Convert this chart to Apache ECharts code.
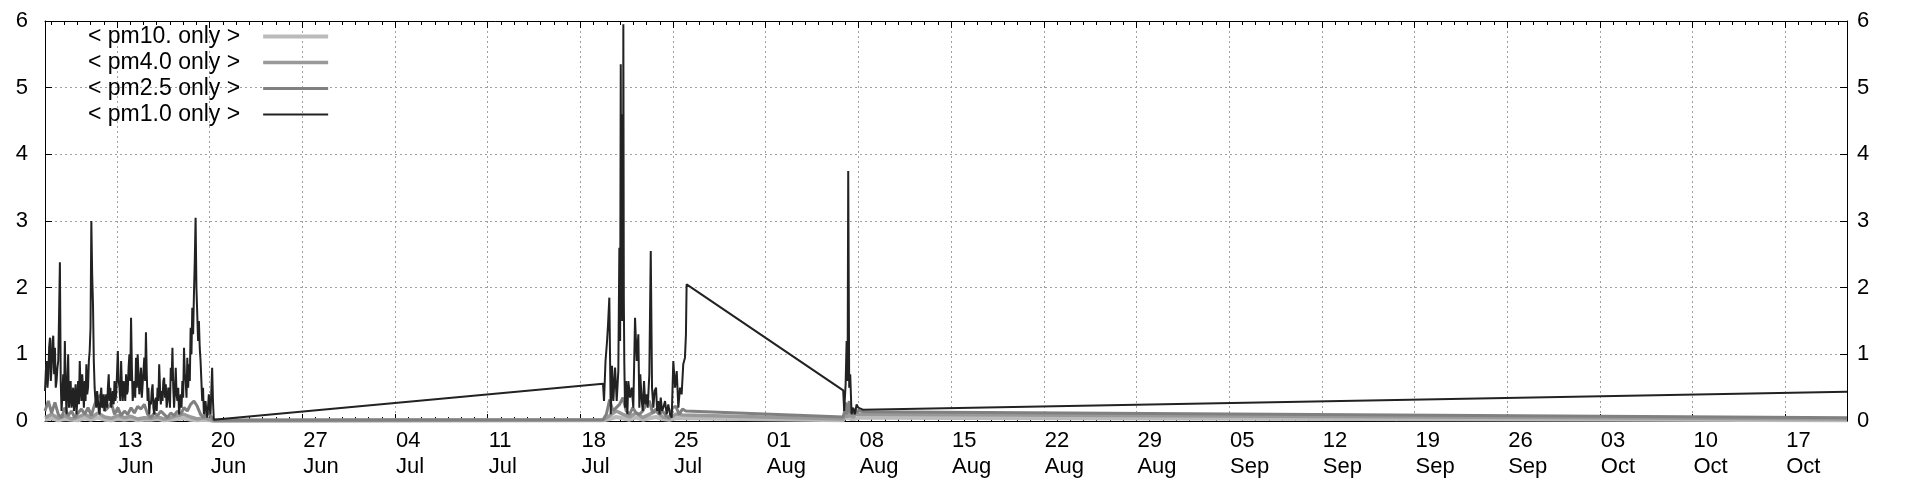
<!DOCTYPE html>
<html><head><meta charset="utf-8">
<script src="https://cdn.jsdelivr.net/npm/echarts@6/dist/echarts.min.js"></script>
<style>html,body{margin:0;padding:0;background:#fff}#chart{width:1920px;height:480px}</style>
</head><body><div id="chart"></div>
<script>
// x values are day-of-year (non-leap year): 164 = 13 Jun
const X_MIN = 158.56, X_MAX = 294.67;
const WEEK_DAYS = [164,171,178,185,192,199,206,213,220,227,234,241,248,255,262,269,276,283,290];
const TICK_LABELS = ['13\nJun','20\nJun','27\nJun','04\nJul','11\nJul','18\nJul','25\nJul','01\nAug','08\nAug','15\nAug','22\nAug','29\nAug','05\nSep','12\nSep','19\nSep','26\nSep','03\nOct','10\nOct','17\nOct'];
const SERIES_NAMES = ['< pm10. only >','< pm4.0 only >','< pm2.5 only >','< pm1.0 only >'];
const SERIES_COLORS = ['#bbbbbb','#999999','#808080','#222222'];
const SERIES_WIDTHS = [4,3.5,3,2];

// segment anchors (day of year)
const SEG1_START = 158.56, SEG1_END = 171.31, SEG2_START = 200.71, SEG2_END = 207.03, SEG3_START = 218.85, DATA_END = 294.67;

// pm1.0 — segment 1, one reading every 1.5 h
const pm1Seg1 = [
 0.45,0.75,0.9,0.5,0.7,1.1,1.25,0.6,0.8,1.2,
 1.28,0.7,1.1,0.5,0.6,0.8,0.9,1.6,2.38,0.6,
 0.15,0.4,0.7,0.3,1.2,0.5,0.1,0.6,1.0,0.2,
 0.4,0.6,0.2,0.3,0.5,0.15,0.35,0.55,0.1,0.3,
 0.6,0.25,0.9,0.5,0.3,0.7,0.45,0.2,0.6,0.3,
 0.85,0.4,0.5,0.9,1.05,1.4,3.0,2.2,1.75,0.9,
 0.5,0.3,0.2,0.45,0.3,0.15,0.1,0.35,0.5,0.2,
 0.25,0.4,0.15,0.3,0.4,0.2,0.5,0.7,0.3,0.5,
 0.2,0.35,0.45,0.25,0.6,0.3,0.4,0.7,1.05,0.6,
 0.5,0.3,0.9,0.5,0.3,0.6,0.5,0.3,0.7,0.4,
 0.45,0.8,1.0,0.6,1.55,0.8,0.3,0.5,0.6,0.35,
 0.95,0.5,1.0,0.7,0.4,0.6,0.8,0.35,0.55,0.75,
 0.95,0.6,1.33,0.7,0.3,0.5,0.1,0.3,0.25,0.45,
 0.55,0.2,0.1,0.3,0.35,0.15,0.5,0.3,0.85,0.5,
 0.25,0.45,0.3,0.6,0.65,0.35,0.55,0.2,0.3,0.5,
 0.45,0.2,0.8,0.6,1.1,0.5,0.2,0.45,0.8,0.4,
 0.3,0.5,0.1,0.25,0.4,0.2,0.6,0.35,1.1,0.7,
 0.6,0.35,0.95,0.5,0.85,0.6,1.4,1.0,1.7,1.3,
 1.9,2.4,3.05,2.0,1.6,1.2,1.5,1.1,0.9,0.6,
 0.3,0.5,0.1,0.2,0.3,0.15,0.05,0.2,0.4,0.2,
 0.1,0.45,0.8,0.3,0.02];
// segment 2 — hours after SEG2_START
const seg2Hours = [0,1.8,4.5,7.3,9.1,11.4,14,16.3,18.7,21.8,
 24.8,27.7,29.6,31,32.1,33,33.9,34.8,35.7,36.3,
 36.8,37.7,38.6,39.9,41.7,44.1,45.9,49,52,54.9,
 58,61.1,64,65.8,67.5,70.2,72,74.3,76.5,79.2,
 81,83.9,86.5,88.8,91.2,93.5,96.1,98,100.2,102.5,
 104.6,107,109.3,112.4,115.4,118.3,121.4,124.5,127.4,130.5,
 133.6,136.5,139.5,142.5,145.4,148.5,150.3,151.5];
const pm1Seg2 = [0.56,0.3,0.9,1.2,1.45,1.85,0.1,0.83,0.3,0.8,
 0.3,0.75,2.6,1.2,5.35,2.2,4.6,1.5,3.5,2.0,
 5.95,1.8,0.85,0.2,0.6,0.1,0.6,0.35,0.5,0.2,
 1.55,0.9,1.3,0.2,0.7,0.3,0.15,0.6,0.25,0.4,
 0.2,0.7,2.55,0.5,0.2,0.45,0.5,0.15,0.3,0.1,
 0.35,0.15,0.2,0.3,0.1,0.25,0.1,0.05,0.9,0.5,
 0.75,0.2,0.5,0.4,0.85,0.95,1.3,2.05];
// segment 3 — hours after SEG3_START
const seg3Hours = [0,1.8,4.4,6.2,8.0,9.1,10.9,12.7,15.2,18.1,21.2,24.3,27.2,30.3,35.7];
const pm1Seg3 = [0.46,0.15,0.55,1.2,0.6,3.75,0.5,0.7,0.1,0.2,0.1,0.25,0.2,0.22,0.17];
const pm1End = 0.44;

// pm2.5 — 6 h readings in segments 1 and 2
const pm25Seg1 = [0.15,0.3,0.12,0.28,0.1,0.05,0.2,0.08,0.15,0.05,
 0.12,0.18,0.1,0.2,0.08,0.25,0.35,0.4,0.15,0.2,
 0.28,0.1,0.2,0.08,0.15,0.1,0.2,0.12,0.22,0.18,
 0.25,0.1,0.05,0.12,0.08,0.15,0.1,0.05,0.12,0.08,
 0.15,0.1,0.2,0.15,0.25,0.3,0.22,0.1,0.05,0.15,
 0.08];
const pm25Seg2 = [0.02,0.1,0.32,0.15,0.2,0.25,0.35,0.15,0.1,0.2,
 0.12,0.1,0.15,0.25,0.3,0.12,0.18,0.1,0.15,0.08,
 0.05,0.2,0.22,0.1,0.18,0.15];
const pm25Seg3 = [0.06,0.12,0.28,0.1,0.25,0.18,0.3,0.12,0.2,0.1,0.18,0.12,0.16,0.14,0.14];
const pm25Gap = 0.01, pm25End = 0.05;

// pm4.0 — 12 h readings in segments 1 and 2
const pm40Seg1 = [0.05,0.1,0.04,0.08,0.03,0.06,0.1,0.05,0.12,0.06,0.04,0.08,0.05,0.07,0.03,0.05,0.04,0.06,0.03,0.05,0.08,0.1,0.06,0.03,0.05,0.02];
const pm40Seg2 = [0.02,0.08,0.15,0.1,0.06,0.12,0.05,0.1,0.15,0.06,0.04,0.1,0.09];
const pm40Seg3 = [0.03,0.05,0.15,0.05,0.12,0.08,0.15,0.06,0.1,0.05,0.1,0.08,0.1,0.1,0.1];
const pm40Gap = 0.01, pm40End = 0.03;

// pm10 — 12 h readings in segments 1 and 2
const pm10Seg1 = [0.02,0.04,0.01,0.03,0.02,0.01,0.04,0.02,0.05,0.02,0.01,0.03,0.02,0.03,0.01,0.02,0.02,0.03,0.01,0.02,0.03,0.04,0.02,0.01,0.02,0.01];
const pm10Seg2 = [0.01,0.03,0.06,0.04,0.02,0.05,0.02,0.04,0.06,0.03,0.02,0.04,0.04];
const pm10Seg3 = [0.01,0.02,0.08,0.03,0.06,0.04,0.08,0.03,0.05,0.03,0.05,0.04,0.05,0.05,0.05];
const pm10Gap = 0.0, pm10End = 0.01;

function regular(start, stepH, vals){ return vals.map((v,i)=>[start + i*stepH/24, v]); }
function offsets(start, hours, vals){ return vals.map((v,i)=>[start + hours[i]/24, v]); }

const pm1Data = [].concat(regular(SEG1_START,1.5,pm1Seg1), offsets(SEG2_START,seg2Hours,pm1Seg2), offsets(SEG3_START,seg3Hours,pm1Seg3), [[DATA_END,pm1End]]);
const pm25Data = [].concat(regular(SEG1_START,6,pm25Seg1), [[SEG1_END,pm25Gap]], regular(SEG2_START,6,pm25Seg2), offsets(SEG3_START,seg3Hours,pm25Seg3), [[DATA_END,pm25End]]);
const pm40Data = [].concat(regular(SEG1_START,12,pm40Seg1), [[SEG1_END,pm40Gap]], regular(SEG2_START,12,pm40Seg2), offsets(SEG3_START,seg3Hours,pm40Seg3), [[DATA_END,pm40End]]);
const pm10Data = [].concat(regular(SEG1_START,12,pm10Seg1), [[SEG1_END,pm10Gap]], regular(SEG2_START,12,pm10Seg2), offsets(SEG3_START,seg3Hours,pm10Seg3), [[DATA_END,pm10End]]);
const SERIES_DATA = [pm10Data, pm40Data, pm25Data, pm1Data];

const DAY_TICKS = [];
for (let d = Math.ceil(X_MIN); d <= X_MAX; d++) DAY_TICKS.push(d);

const FONT = 'Liberation Sans';
const FS = 22;
const gridLine = {show:true, lineStyle:{color:'#a0a0a0', width:1, type:[2,3]}};

function xAxisDef(pos, values, len, withLine, withLabels){
  return {
    type:'value', min:X_MIN, max:X_MAX, position:pos,
    axisLine:{show:withLine, onZero:false, lineStyle:{color:'#000', width:1}},
    axisTick:{show:true, inside:true, length:len, customValues:values, lineStyle:{color:'#000', width:1}},
    axisLabel: withLabels ? {show:true, customValues:WEEK_DAYS, align:'left', margin:7, padding:[0,0,0,1],
      fontFamily:FONT, fontSize:FS, lineHeight:26, color:'#000', hideOverlap:false,
      formatter: v => { const i = WEEK_DAYS.findIndex(d => Math.abs(d - v) < 1e-6); return i >= 0 ? TICK_LABELS[i] : ''; }} : {show:false},
    splitLine: withLabels ? gridLine : {show:false}
  };
}

const chart = echarts.init(document.getElementById('chart'), null, {renderer:'canvas'});
chart.setOption({
  animation:false,
  backgroundColor:'#fff',
  grid:{left:45, right:73, top:21, bottom:57, containLabel:false},
  legend:{
    orient:'vertical', left:88, top:25, padding:0, align:'right',
    itemWidth:65, itemHeight:14, itemGap:3,
    itemStyle:{opacity:0},
    textStyle:{fontFamily:FONT, fontSize:23, lineHeight:20, color:'#000', padding:[0,18,0,0]},
    data:SERIES_NAMES.map((n,i)=>({name:n, lineStyle:{width:SERIES_WIDTHS[i], color:SERIES_COLORS[i]}})),
    selectedMode:false
  },
  xAxis:[
    xAxisDef('bottom', WEEK_DAYS, 7, true, true),
    xAxisDef('bottom', DAY_TICKS, 4, false, false),
    xAxisDef('top', WEEK_DAYS, 7, true, false),
    xAxisDef('top', DAY_TICKS, 4, false, false)
  ],
  yAxis:[
    {type:'value', min:0, max:6, interval:1, position:'left',
     axisLine:{show:true, onZero:false, lineStyle:{color:'#000'}},
     axisTick:{show:true, inside:true, length:7, lineStyle:{color:'#000'}},
     axisLabel:{fontFamily:FONT, fontSize:FS, color:'#000', margin:17},
     splitLine:gridLine},
    {type:'value', min:0, max:6, interval:1, position:'right',
     axisLine:{show:true, onZero:false, lineStyle:{color:'#000'}},
     axisTick:{show:true, inside:true, length:7, lineStyle:{color:'#000'}},
     axisLabel:{fontFamily:FONT, fontSize:FS, color:'#000', margin:10},
     splitLine:{show:false}}
  ],
  series:SERIES_NAMES.map((n,i)=>({
    name:n, type:'line', data:SERIES_DATA[i], symbol:'none', showSymbol:false, clip:false,
    lineStyle:{color:SERIES_COLORS[i], width:SERIES_WIDTHS[i]}, itemStyle:{color:SERIES_COLORS[i]}
  }))
});
</script></body></html>
